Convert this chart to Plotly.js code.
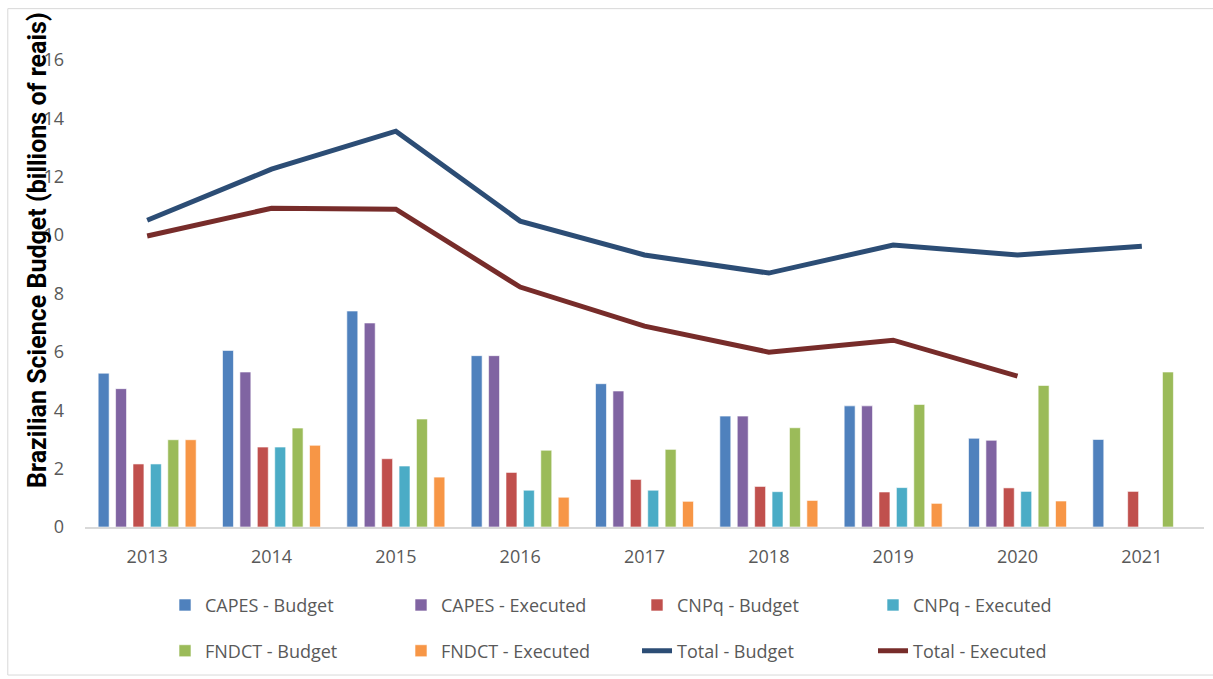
<!DOCTYPE html>
<html>
<head>
<meta charset="utf-8">
<script src="https://cdn.plot.ly/plotly-3.0.1.min.js"></script>
<style>html,body{margin:0;padding:0;background:#fff;}#chart{width:1213px;height:679px;}</style>
</head>
<body>
<div id="chart"></div>
<script>
const years = ['2013','2014','2015','2016','2017','2018','2019','2020','2021'];
const capesBudget   = [5.27, 6.05, 7.40, 5.87, 4.91, 3.80, 4.15, 3.04, 3.00];
const capesExecuted = [4.74, 5.31, 6.99, 5.87, 4.66, 3.80, 4.15, 2.97, null];
const cnpqBudget    = [2.16, 2.74, 2.34, 1.87, 1.63, 1.39, 1.20, 1.34, 1.22];
const cnpqExecuted  = [2.16, 2.74, 2.09, 1.26, 1.26, 1.21, 1.35, 1.22, null];
const fndctBudget   = [2.99, 3.39, 3.70, 2.63, 2.66, 3.40, 4.20, 4.85, 5.31];
const fndctExecuted = [2.99, 2.80, 1.71, 1.02, 0.88, 0.91, 0.81, 0.89, null];
const totalBudget   = [10.51, 12.26, 13.56, 10.48, 9.32, 8.70, 9.66, 9.32, 9.62];
const totalExecuted = [9.97, 10.92, 10.89, 8.22, 6.88, 5.99, 6.40, 5.17, null];

const FONT = 'Open Sans, Liberation Sans, sans-serif';
const GREY = '#595959';

function bar(name, y, color, lg) {
  return {type: 'bar', name: name, x: years, y: y, legend: lg,
    marker: {color: color, line: {color: 'rgba(255,255,255,0.6)', width: 1}}};
}
function line(name, y, color, lg) {
  return {type: 'scatter', mode: 'lines', name: name, x: years, y: y, legend: lg,
    line: {color: color, width: 5}, connectgaps: false};
}

const data = [
  bar('CAPES - Budget', capesBudget, '#4F81BD', 'legend'),
  bar('CAPES - Executed', capesExecuted, '#8064A2', 'legend'),
  bar('CNPq - Budget', cnpqBudget, '#C0504D', 'legend'),
  bar('CNPq - Executed', cnpqExecuted, '#4BACC6', 'legend'),
  bar('FNDCT - Budget', fndctBudget, '#9BBB59', 'legend2'),
  bar('FNDCT - Executed', fndctExecuted, '#F79646', 'legend2'),
  line('Total - Budget', totalBudget, '#2C4D75', 'legend2'),
  line('Total - Executed', totalExecuted, '#772C2A', 'legend2')
];

const legendBase = {orientation: 'h', x: 0.0715, xanchor: 'left', yanchor: 'top',
  entrywidth: 191, entrywidthmode: 'pixels', bgcolor: 'rgba(0,0,0,0)',
  font: {size: 18, color: GREY, family: FONT}, traceorder: 'normal'};

const layout = {
  width: 1213, height: 679,
  margin: {l: 85, r: 9, t: 60, b: 152, autoexpand: false},
  paper_bgcolor: '#fff', plot_bgcolor: '#fff',
  barmode: 'group', bargap: 0.16, bargroupgap: 0.37,
  font: {family: FONT, color: GREY},
  xaxis: {type: 'category', showgrid: false, showline: true, linecolor: '#d9d9d9', linewidth: 2,
    ticks: '', tickfont: {size: 18, color: GREY, family: FONT}, zeroline: false, ticklabelstandoff: 12},
  yaxis: {range: [0, 16], dtick: 2, showgrid: false, showline: false, zeroline: false,
    ticks: '', tickfont: {size: 18, color: GREY, family: FONT}, ticklabelstandoff: 20},
  showlegend: true,
  legend: Object.assign({}, legendBase, {y: -0.128}),
  legend2: Object.assign({}, legendBase, {y: -0.226}),
  annotations: [{
    text: '<b>Brazilian Science Budget (billions of reais)</b>',
    xref: 'paper', yref: 'paper', x: -0.0429, y: 0.593, xanchor: 'center', yanchor: 'middle',
    textangle: -90, showarrow: false, font: {size: 25, color: '#000', family: 'Roboto, sans-serif'}
  }],
  shapes: [{type: 'rect', xref: 'paper', yref: 'paper', x0: -0.069, x1: 1.02, y0: -0.317, y1: 1.11,
    line: {color: '#d9d9d9', width: 1}, fillcolor: 'rgba(0,0,0,0)', layer: 'below'}]
};

Plotly.newPlot('chart', data, layout, {displayModeBar: false, staticPlot: true});
</script>
</body>
</html>
